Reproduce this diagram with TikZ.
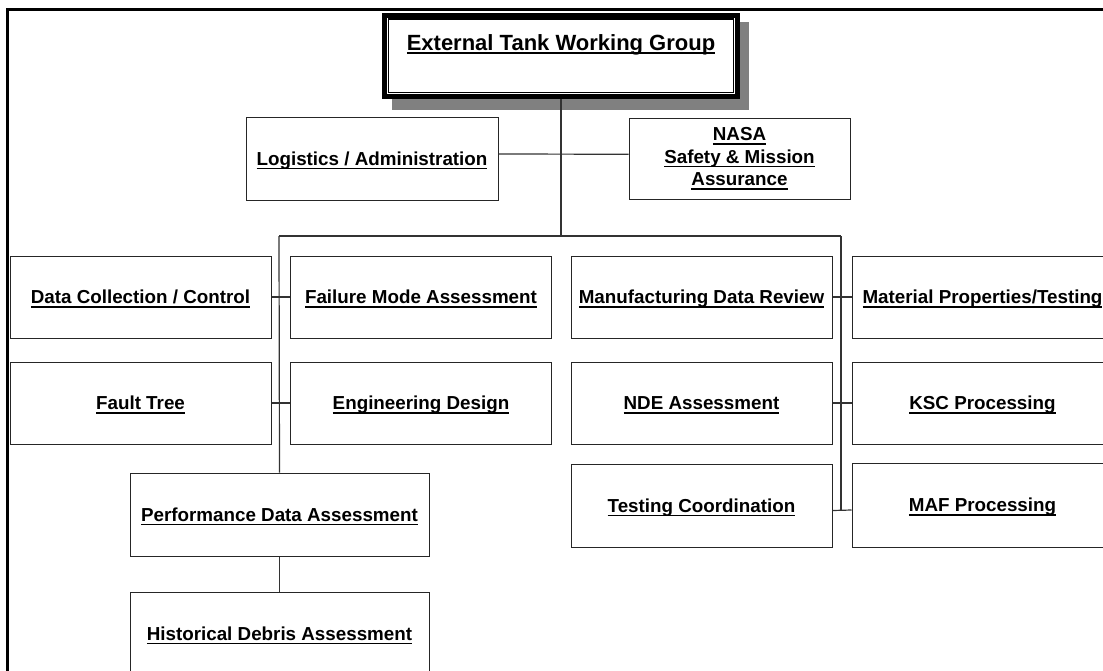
\documentclass[tikz,border=0pt]{standalone}
\usepackage{fontspec}
\setmainfont{Liberation Sans}
\newcommand{\undertext}[1]{\setbox0=\hbox{#1}\rlap{\rule[-4pt]{\wd0}{1.6pt}}\box0}

\begin{document}
\begin{tikzpicture}[x=1pt, y=-1pt,
    unit/.style={draw=black!85, line width=1pt, fill=white, inner sep=0pt,
      minimum width=261pt, minimum height=82pt,
      font=\fontsize{18.8}{22.5}\selectfont\bfseries},
    oneline/.style={unit, text height=14pt, text depth=0.6pt},
    link/.style={draw=black!80, line width=1.2pt}]
    \clip (0,0) rectangle (1103,670);
    % Frame
    \draw[line width=3pt] (7,690) -- (7,9.5) -- (1120,9.5);

    % Working group box with shadow
    \fill[black!50] (392,22) rectangle (749,110);
    \node[draw, line width=5pt, fill=white, inner sep=0pt, minimum width=353pt,
          text height=34.8pt, text depth=46.5pt,
          font=\fontsize{22}{26}\selectfont\bfseries] (etwg) at (561,55.85)
          {\undertext{External Tank Working Group}};
    \draw[line width=1.5pt] ([shift={(6.5pt,-6.5pt)}]etwg.north west) rectangle ([shift={(-6.5pt,6.5pt)}]etwg.south east);

    % Staff
    \node[oneline, minimum width=252pt, minimum height=83pt] (logi) at (372,158.5) {\undertext{Logistics / Administration}};
    \node[unit, align=center, minimum width=221pt, minimum height=80.5pt] (nasa) at (739.5,158.75)
          {\undertext{NASA}\\\undertext{Safety \& Mission}\\\undertext{Assurance}};

    % Teams, left side
    \node[oneline] (dcc) at (140.5,297) {\undertext{Data Collection / Control}};
    \node[oneline] (fma) at (421,297) {\undertext{Failure Mode Assessment}};
    \node[oneline] (ft) at (140.5,403) {\undertext{Fault Tree}};
    \node[oneline] (ed) at (421,403) {\undertext{Engineering Design}};
    \node[oneline, minimum width=299pt, minimum height=83pt] (pda) at (279.5,514.5) {\undertext{Performance Data Assessment}};
    \node[oneline, minimum width=299pt, minimum height=83pt] (hda) at (279.5,633.5) {\undertext{Historical Debris Assessment}};

    % Teams, right side
    \node[oneline] (mdr) at (701.5,297) {\undertext{Manufacturing Data Review}};
    \node[oneline] (mpt) at (982.5,297) {\undertext{Material Properties/Testing}};
    \node[oneline] (nde) at (701.5,403) {\undertext{NDE Assessment}};
    \node[oneline] (ksc) at (982.5,403) {\undertext{KSC Processing}};
    \node[oneline, minimum height=83pt] (tc) at (701.5,505.5) {\undertext{Testing Coordination}};
    \node[oneline, minimum height=84pt] (maf) at (982.5,505) {\undertext{MAF Processing}};

    % Lines
    \coordinate (busL) at (279,236);
    \coordinate (busR) at (841,236);
    \coordinate (endR) at (841,510.5);
    \draw[link] (etwg.south) -- (etwg.south |- busL);
    \draw[link] (busL) -- (busR);
    \draw[link] (busL) -- (pda.north);
    \draw[link] (busR) -- (endR);
    \draw[link] ([yshift=4.5pt]logi.east) -- ([yshift=4.5pt]nasa.west);
    \draw[link] (dcc) -- (fma);
    \draw[link] (ft) -- (ed);
    \draw[link] (mdr) -- (mpt);
    \draw[link] (nde) -- (ksc);
    \draw[link] ([yshift=-5pt]tc.east) -- ([yshift=-5pt]maf.west);
    \draw[link] (pda) -- (hda);
\end{tikzpicture}
\end{document}
